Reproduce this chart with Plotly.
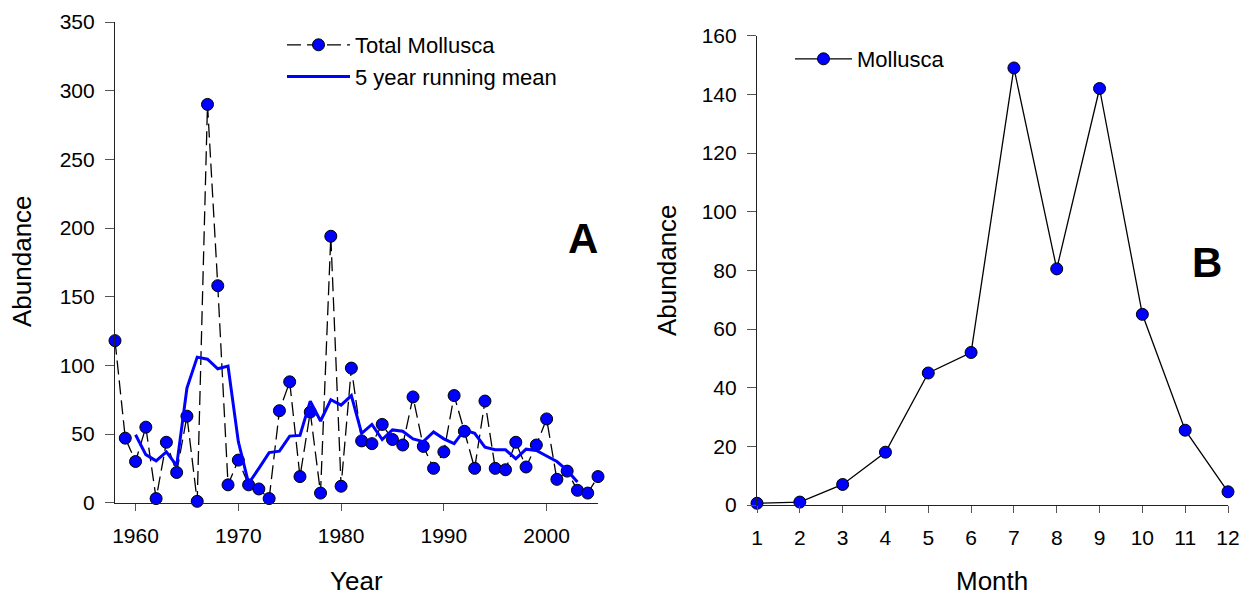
import plotly.graph_objects as go

# ---- Panel A: yearly totals 1958-2005 and the 5 year running mean ----
years = list(range(1958, 2006))
total_mollusca = [118, 47, 30, 55, 3, 44, 22, 63, 1, 290,
                  158, 13, 31, 13, 10, 3, 67, 88, 19, 66,
                  7, 194, 12, 98, 45, 43, 57, 46, 42, 77,
                  41, 25, 37, 78, 52, 25, 74, 25, 24, 44,
                  26, 42, 61, 17, 23, 9, 7, 19]

mean_years = list(range(1960, 2004))
running_mean = [49.5, 35, 30.5, 37, 27, 83.5, 106, 104.5, 97.5, 99.5,
                44.5, 14, 25, 36.5, 37.5, 48.5, 49, 74, 59.5, 75,
                71, 78, 50.5, 57, 46, 53, 52, 46.5, 44.5, 51.5,
                46.5, 43, 53, 50.5, 40.5, 38.5, 38.5, 32, 39, 38,
                34, 30, 23.5, 15]

# ---- Panel B: monthly abundance ----
months = list(range(1, 13))
monthly_mollusca = [0.6, 1.0, 7, 18, 45, 52, 149, 80.5, 142, 65, 25.5, 4.5]

year_ticks = [1960, 1970, 1980, 1990, 2000]
abund_ticks_a = list(range(0, 351, 50))
abund_ticks_b = list(range(0, 161, 20))

W, H = 1251, 601
FONT = "Liberation Sans, Arial, Helvetica, sans-serif"
BLUE = "#0000FF"


def px(x):
    return x / W


def py(y):
    return 1 - y / H


fig = go.Figure()

fig.add_trace(go.Scatter(
    x=years, y=total_mollusca, name="Total Mollusca",
    mode="lines+markers", xaxis="x", yaxis="y", legend="legend",
    line=dict(color="black", width=1.3, dash="14px,6px"),
    marker=dict(size=12, color=BLUE, line=dict(color="black", width=1)),
    cliponaxis=False,
))
fig.add_trace(go.Scatter(
    x=mean_years, y=running_mean, name="5 year running mean",
    mode="lines", xaxis="x", yaxis="y", legend="legend",
    line=dict(color=BLUE, width=3),
    cliponaxis=False,
))
fig.add_trace(go.Scatter(
    x=months, y=monthly_mollusca, name="Mollusca",
    mode="lines+markers", xaxis="x2", yaxis="y2", legend="legend2",
    line=dict(color="black", width=1.3),
    marker=dict(size=12, color=BLUE, line=dict(color="black", width=1)),
    cliponaxis=False,
))

axis_common = dict(
    showgrid=False, zeroline=False, showline=True, automargin=False,
    linecolor="#222222", linewidth=1.2,
    ticks="outside", tickcolor="#555555", tickwidth=1.2,
    tickfont=dict(family=FONT, size=21, color="black"),
    fixedrange=True,
)

fig.update_layout(
    width=W, height=H,
    margin=dict(l=0, r=0, t=0, b=0, autoexpand=False),
    paper_bgcolor="white", plot_bgcolor="white",
    font=dict(family=FONT, color="black"),
    xaxis=dict(domain=[px(115), px(598)], range=[1958, 2005],
               tickvals=year_ticks, ticklen=7, ticklabelstandoff=7,
               anchor="y", **axis_common),
    yaxis=dict(domain=[py(502.7), py(22)], range=[0, 350],
               tickvals=abund_ticks_a, ticklen=9, ticklabelstandoff=6,
               anchor="x", **axis_common),
    xaxis2=dict(domain=[px(757), px(1228)], range=[1, 12],
                tickvals=months, ticklen=7, ticklabelstandoff=7,
                anchor="y2", **axis_common),
    yaxis2=dict(domain=[py(505), py(35.7)], range=[0, 160],
                tickvals=abund_ticks_b, ticklen=9, ticklabelstandoff=6,
                anchor="x2", **axis_common),
    legend=dict(x=px(282), y=py(24), xanchor="left", yanchor="top",
                bgcolor="rgba(0,0,0,0)", borderwidth=0, itemwidth=63,
                font=dict(family=FONT, size=22), tracegroupgap=0),
    legend2=dict(x=px(790), y=py(38), xanchor="left", yanchor="top",
                 bgcolor="rgba(0,0,0,0)", borderwidth=0, itemwidth=57,
                 font=dict(family=FONT, size=22)),
    showlegend=True,
)

annotations = [
    dict(text="Abundance", x=px(22), y=py(261), textangle=-90,
         font=dict(family=FONT, size=26)),
    dict(text="Year", x=px(356), y=py(581), font=dict(family=FONT, size=26)),
    dict(text="Abundance", x=px(667), y=py(270), textangle=-90,
         font=dict(family=FONT, size=26)),
    dict(text="Month", x=px(992), y=py(581), font=dict(family=FONT, size=26)),
    dict(text="<b>A</b>", x=px(583), y=py(238), font=dict(family=FONT, size=42)),
    dict(text="<b>B</b>", x=px(1207), y=py(262), font=dict(family=FONT, size=42)),
]
for a in annotations:
    a.update(xref="paper", yref="paper", showarrow=False,
             xanchor="center", yanchor="middle")
fig.update_layout(annotations=annotations)

# the page body keeps no default margin so the figure fills the window exactly
fig.write_html(
    "out.html",
    config={"displayModeBar": False},
    post_script="document.body.style.margin='0';"
                "document.documentElement.style.overflow='hidden';",
)
